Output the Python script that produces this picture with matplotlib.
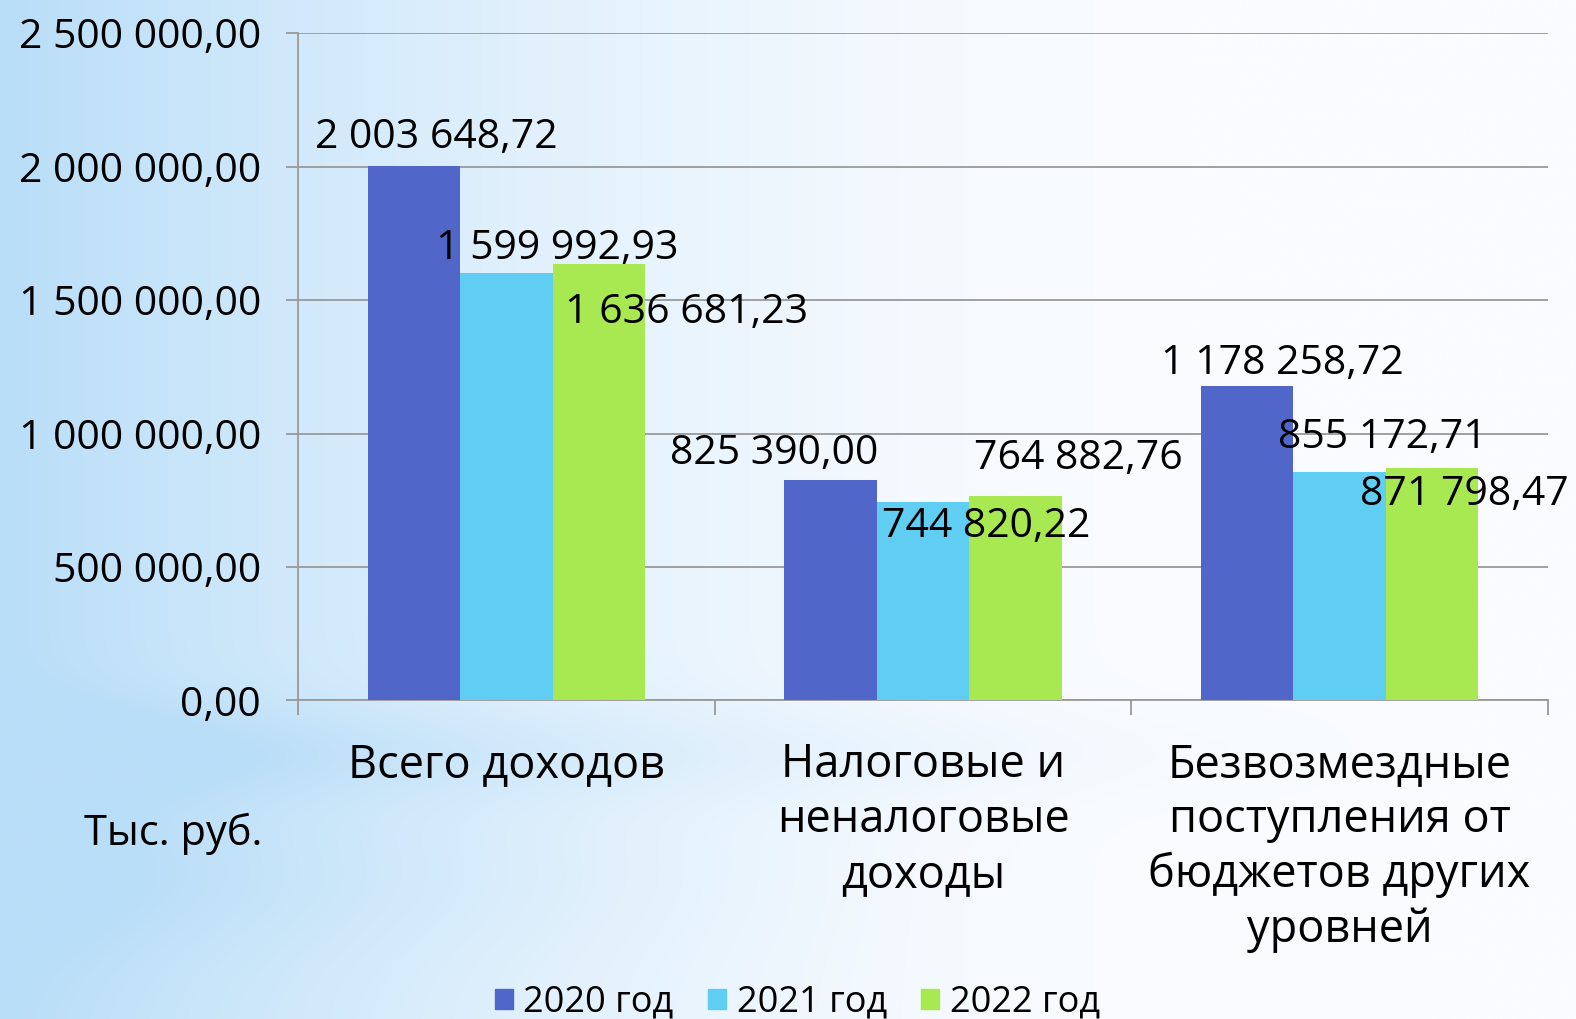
import numpy as np
import matplotlib
matplotlib.use('Agg')
import matplotlib.pyplot as plt
from matplotlib.patches import Patch

plt.rcParams['font.family'] = ['Open Sans', 'DejaVu Sans']

categories = ['Всего доходов', 'Налоговые и\nненалоговые\nдоходы',
              'Безвозмездные\nпоступления от\nбюджетов других\nуровней']
years = ['2020 год', '2021 год', '2022 год']
v2020 = [2003648.72, 825390.00, 1178258.72]
v2021 = [1599992.93, 744820.22, 855172.71]
v2022 = [1636681.23, 764882.76, 871798.47]
colors = ['#5066C8', '#60CDF2', '#A8E850']

# label offsets from bar top-center, in pixels (dx right, dy up)
label_dx = [[22, -57, 35], [51, 63, 43], [87, 63, 32]]
label_dy = [[28, 26, 22], [25, -25, 34], [-49, 38, -27]]

def fmt(v):
    s = '{:,.2f}'.format(v)
    return s.replace(',', ' ').replace('.', ',')

fig = plt.figure(figsize=(15.76, 10.19), dpi=100)

# background gradient
bg = fig.add_axes([0, 0, 1, 1], zorder=-10)
H, W = 200, 300
xx = np.linspace(0, 1, W)[None, :]
yy = np.linspace(0, 1, H)[:, None]
b = np.clip(1 - xx / 0.75, 0, 1) ** 1.6
band = np.exp(-((yy - 0.74) / 0.05) ** 2) * np.clip(1 - xx / 0.9, 0, 1) * 0.35
band2 = np.exp(-((yy - 0.86) / 0.08) ** 2) * np.clip(1 - xx / 0.6, 0, 1) * 0.2
b = np.clip(b + band + band2, 0, 1)
white = np.array([250, 252, 255]) / 255
blue = np.array([185, 222, 248]) / 255
img = white[None, None, :] - b[:, :, None] * (white - blue)[None, None, :]
bg.imshow(img, aspect='auto', extent=[0, 1, 0, 1], interpolation='bicubic')
bg.axis('off')

ax = fig.add_axes([0.1894, 0.3126, 0.7927, 0.6549])
ax.set_facecolor('none')

x = np.arange(len(categories))
w = 0.222
series = [v2020, v2021, v2022]
for i, vals in enumerate(series):
    xpos = x + (i - 1) * w
    ax.bar(xpos, vals, width=w, color=colors[i], label=years[i], zorder=3)
    for j, v in enumerate(vals):
        ax.annotate(fmt(v), (xpos[j], v), xytext=(label_dx[i][j] * 0.72, label_dy[i][j] * 0.72),
                    textcoords='offset points', ha='center', va='center',
                    fontsize=29.5, zorder=5)

ax.set_xlim(-0.5, 2.5)
ax.set_ylim(0, 2500000)
ax.set_yticks(np.arange(0, 2500001, 500000))
ax.set_yticklabels([fmt(t) for t in np.arange(0, 2500001, 500000)], fontsize=29.5)
ax.yaxis.grid(True, color='#999999', linewidth=1.3, zorder=0)
ax.set_axisbelow(True)

ax.set_xticks(x)
ax.set_xticklabels(categories, fontsize=32.5, linespacing=1.25, va='top')
ax.set_xticks([-0.5, 0.5, 1.5, 2.5], minor=True)
ax.tick_params(axis='x', which='major', length=0, pad=30)
ax.tick_params(axis='x', which='minor', length=11, color='#999999', width=1.3, direction='out')
ax.tick_params(axis='y', length=9, color='#999999', width=1.3, direction='out', pad=18)

for s in ['top', 'right']:
    ax.spines[s].set_visible(False)
for s in ['left', 'bottom']:
    ax.spines[s].set_color('#999999')
    ax.spines[s].set_linewidth(1.3)

fig.text(172 / 1568, 1 - 830 / 1014, 'Тыс. руб.', fontsize=30, ha='center', va='center')

handles = [Patch(color=c) for c in colors]
fig.legend(handles, years, loc='center', bbox_to_anchor=(0.506, 1 - 998 / 1014), ncol=3,
           frameon=False, fontsize=26, handlelength=0.5, handleheight=0.5,
           handletextpad=0.3, columnspacing=0.95)

fig.savefig('out.png', dpi=100)
